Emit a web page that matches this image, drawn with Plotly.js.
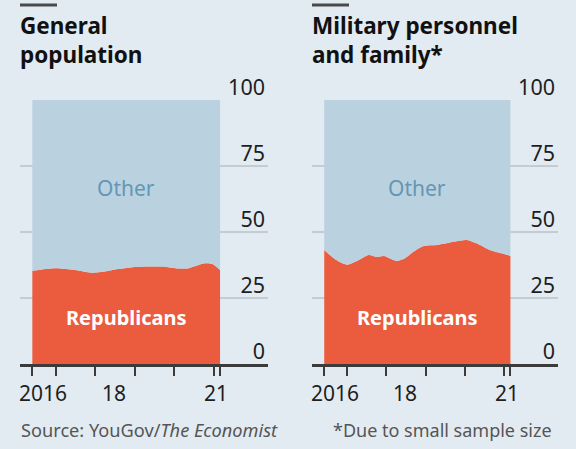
<!DOCTYPE html>
<html>
<head>
<meta charset="utf-8">
<script src="https://cdn.plot.ly/plotly-3.0.1.min.js"></script>
<style>html,body{margin:0;padding:0;background:#e2ebf2;}#chart{width:576px;height:449px;}</style>
</head>
<body>
<div id="chart"></div>
<script>
// ---- data (share of respondents, %) ----
const generalDates = ['2016-06-01','2016-10-01','2017-01-15','2017-07-01','2017-12-01','2018-04-01','2018-08-01','2018-12-01','2019-04-01','2019-09-01','2020-01-15','2020-05-01','2020-10-01','2020-12-20','2021-03-01'];
const generalRepublicans = [35.3,36.0,36.3,35.6,34.6,35.0,36.0,36.6,36.9,36.9,36.3,36.2,38.1,37.9,35.6];

const militaryDates = ['2016-06-01','2016-08-15','2016-10-15','2017-01-01','2017-04-01','2017-07-20','2017-10-01','2017-12-10','2018-04-01','2018-06-20','2018-09-10','2018-12-15','2019-04-15','2019-09-20','2020-01-20','2020-04-20','2020-08-20','2021-01-01','2021-03-01'];
const militaryRepublicans = [43.2,40.5,38.8,37.6,39.0,41.3,40.6,40.9,39.1,40.0,42.5,44.7,45.1,46.3,47.0,45.7,43.2,41.7,40.9];

const panelTitles = ['General<br>population', 'Military personnel<br>and family*'];
const yTicks = [0, 25, 50, 75, 100];
const tickDates = ['2016-06-01','2017-01-01','2018-01-01','2019-01-01','2020-01-01','2021-01-01','2021-03-01'];
const yearLabels = ['2016', '18', '21'];
const yearLabelDates = ['2016-09-10', '2018-06-25', '2021-01-25'];
const seriesNames = ['Republicans', 'Other'];

// ---- styling ----
const BG = '#e2ebf2', RED = '#eb5b3d', OTHER = '#bad2df', OTHERTXT = '#6496b5';
const W = 576, H = 449, TOP = 100, BOT = 364;
const px = x => x / W;
const py = y => (BOT - y) / (BOT - TOP);

function makeTraces(dates, rep, xa, ya) {
  return [
    {x: dates, y: rep, name: seriesNames[0], type: 'scatter', mode: 'lines', stackgroup: 's' + xa,
     line: {width: 0, shape: 'spline', smoothing: 0.8}, fillcolor: RED, xaxis: xa, yaxis: ya, hoverinfo: 'skip'},
    {x: dates, y: rep.map(v => 100 - v), name: seriesNames[1], type: 'scatter', mode: 'lines', stackgroup: 's' + xa,
     line: {width: 0, shape: 'spline', smoothing: 0.8}, fillcolor: OTHER, xaxis: xa, yaxis: ya, hoverinfo: 'skip'}
  ];
}

const data = [
  ...makeTraces(generalDates, generalRepublicans, 'x', 'y'),
  ...makeTraces(militaryDates, militaryRepublicans, 'x2', 'y2')
];

const xRange = ['2016-02-08', '2022-05-18'];
function xAxis(domain, anchor) {
  return {domain: domain, anchor: anchor, type: 'date', range: xRange,
    showgrid: false, zeroline: false, showline: true, linecolor: '#3b3b3b', linewidth: 2.5,
    ticks: 'outside', tickvals: tickDates, ticklen: 9, tickwidth: 2, tickcolor: '#3b3b3b',
    showticklabels: false, fixedrange: true};
}
function yAxis(anchor) {
  return {domain: [0, 1], anchor: anchor, side: 'right', range: [0, 100], tickvals: yTicks,
    showgrid: true, gridcolor: '#c4ccd3', gridwidth: 2, zeroline: false, showline: false, ticks: '',
    ticklabelposition: 'inside top', ticklabeloverflow: 'allow', ticklabelstandoff: 0, ticklabelshift: 3,
    tickfont: {family: 'Noto Sans', size: 21.5, color: '#1e1e1e'}, fixedrange: true};
}

const annotations = [];
const shapes = [];
const panels = [{x0: 20, xa: 'x'}, {x0: 312, xa: 'x2'}];
panels.forEach((p, i) => {
  annotations.push({xref: 'paper', yref: 'paper', x: px(p.x0 - 2), y: py(8), xanchor: 'left', yanchor: 'top', align: 'left',
    text: panelTitles[i], showarrow: false, font: {family: 'Noto Sans', size: 22.5, color: '#111', weight: 700}});
  shapes.push({type: 'line', xref: 'paper', yref: 'paper', x0: px(p.x0), x1: px(p.x0 + 37), y0: py(5), y1: py(5),
    line: {color: '#4a4a4a', width: 3}});
  yearLabels.forEach((t, k) => {
    annotations.push({xref: p.xa, yref: 'paper', x: yearLabelDates[k], y: py(393), xanchor: 'center', yanchor: 'middle',
      text: t, showarrow: false, font: {family: 'Noto Sans', size: 21, color: '#1e1e1e'}});
  });
  annotations.push({xref: p.xa, yref: 'y' + (i ? '2' : ''), x: '2018-10-15', y: 66.7, text: seriesNames[1], showarrow: false,
    font: {family: 'Noto Sans', size: 21, color: OTHERTXT}});
  annotations.push({xref: p.xa, yref: 'y' + (i ? '2' : ''), x: '2018-10-15', y: 17.6, text: '<b>' + seriesNames[0] + '</b>', showarrow: false,
    font: {family: 'Noto Sans', size: 20, color: '#ffffff'}});
});
annotations.push({xref: 'paper', yref: 'paper', x: px(19), y: py(430), xanchor: 'left', yanchor: 'middle',
  text: 'Source: YouGov/<i>The Economist</i>', showarrow: false, font: {family: 'Noto Sans', size: 18.2, color: '#555'}});
annotations.push({xref: 'paper', yref: 'paper', x: px(554), y: py(430), xanchor: 'right', yanchor: 'middle',
  text: '*Due to small sample size', showarrow: false, font: {family: 'Noto Sans', size: 18, color: '#555'}});

const layout = {
  width: W, height: H, margin: {l: 0, r: 0, t: TOP, b: H - BOT, pad: 0},
  paper_bgcolor: BG, plot_bgcolor: BG, showlegend: false,
  xaxis: xAxis([px(20), px(268)], 'y'),
  yaxis: yAxis('x'),
  xaxis2: xAxis([px(312), px(558)], 'y2'),
  yaxis2: yAxis('x2'),
  annotations: annotations, shapes: shapes
};

Plotly.newPlot('chart', data, layout, {displayModeBar: false, staticPlot: true});
</script>
</body>
</html>
